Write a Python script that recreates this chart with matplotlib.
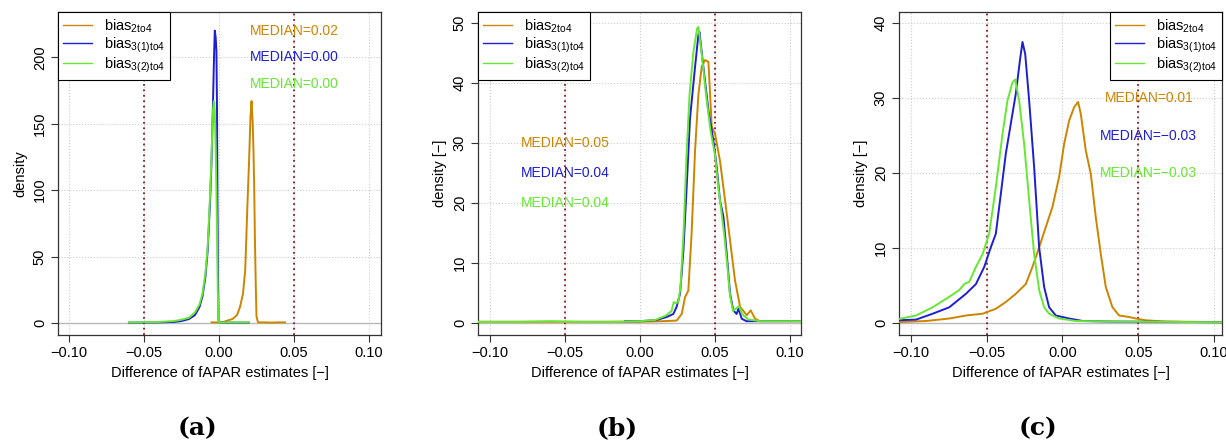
import matplotlib
matplotlib.use("Agg")
import matplotlib.pyplot as plt
from matplotlib.lines import Line2D

plt.rcParams['font.family'] = ['Liberation Sans', 'DejaVu Sans']

# colours of the three series
c_orange = '#CD8500'
c_blue = '#1E1ED2'
c_green = '#66E833'

labels = [r'bias$_{\mathregular{2to4}}$', r'bias$_{\mathregular{3(1)to4}}$', r'bias$_{\mathregular{3(2)to4}}$']

# ---- panel (a) ----
a_x_orange = [-0.005, 0.0, 0.003, 0.006, 0.009, 0.012, 0.014, 0.016, 0.0175, 0.019, 0.020, 0.021,
              0.0217, 0.0225, 0.023, 0.0235, 0.024, 0.0245, 0.025, 0.026, 0.030, 0.035, 0.040, 0.044]
a_y_orange = [0.5, 0.5, 0.8, 2, 3, 6, 12, 22, 40, 90, 120, 155,
              167, 150, 130, 100, 60, 30, 5, 0.5, 0.5, 0.3, 0.5, 0.5]
a_x_blue = [-0.06, -0.04, -0.03, -0.025, -0.02, -0.016, -0.013, -0.011, -0.009, -0.0075, -0.006,
            -0.005, -0.004, -0.0033, -0.0028, -0.0022, -0.0017, -0.0013, -0.001, -0.0006, -0.0003,
            0.0, 0.005, 0.01, 0.02]
a_y_blue = [0.3, 0.5, 0.8, 1.5, 3, 6, 12, 20, 35, 55, 90,
            120, 165, 200, 220, 215, 205, 160, 90, 30, 3,
            0.5, 0.3, 0.3, 0.3]
a_x_green = [-0.06, -0.04, -0.03, -0.025, -0.02, -0.016, -0.013, -0.011, -0.009, -0.0075, -0.006,
             -0.005, -0.004, -0.0034, -0.0028, -0.0022, -0.0017, -0.0012, -0.0008, -0.0004, 0.0,
             0.005, 0.01, 0.02]
a_y_green = [0.5, 0.8, 1.5, 2.5, 4, 8, 14, 22, 38, 58, 95,
             125, 160, 167, 160, 130, 100, 60, 25, 5, 0.5,
             0.5, 0.5, 0.5]
a_medians = ['MEDIAN=0.02', 'MEDIAN=0.00', 'MEDIAN=0.00']

# ---- panel (b) ----
b_x_orange = [-0.11, -0.05, 0.0, 0.015, 0.0244, 0.0278, 0.030, 0.0322, 0.0344, 0.0367, 0.0389, 0.0411,
              0.0433, 0.0456, 0.0478, 0.050, 0.0533, 0.0567, 0.060, 0.0633, 0.0667, 0.0711, 0.0738,
              0.0767, 0.08, 0.09, 0.11]
b_y_orange = [0.2, 0.2, 0.2, 0.3, 0.4, 1.5, 4.3, 5.4, 15, 28.8, 38, 42.7,
              43.8, 43.5, 32.7, 31.5, 27, 20.4, 13.8, 7.1, 2.7, 1.3, 2.1,
              0.7, 0.3, 0.3, 0.3]
b_x_blue = [-0.01, 0.0, 0.011, 0.0178, 0.0222, 0.0244, 0.0267, 0.0289, 0.0311, 0.0333, 0.0367, 0.0389,
            0.0396, 0.0422, 0.0456, 0.0489, 0.0511, 0.0533, 0.0556, 0.0578, 0.06, 0.0622, 0.0644,
            0.0656, 0.0678, 0.071, 0.08, 0.09, 0.1, 0.11]
b_y_blue = [0.3, 0.3, 0.5, 1.0, 1.5, 2.7, 4.9, 12, 22.7, 34, 42.7, 48,
            48.5, 42.7, 35.4, 30.4, 26, 20.4, 17.7, 11.5, 4.9, 2.1, 1.5,
            2.4, 0.7, 0.3, 0.3, 0.3, 0.3, 0.3]
b_x_green = [-0.11, -0.08, -0.06, -0.04, -0.02, 0.0, 0.01, 0.017, 0.021, 0.0225, 0.024, 0.0255,
             0.027, 0.029, 0.031, 0.033, 0.0355, 0.038, 0.0389, 0.0415, 0.044, 0.047, 0.05, 0.052,
             0.054, 0.056, 0.058, 0.06, 0.062, 0.0645, 0.066, 0.068, 0.072, 0.08, 0.09, 0.11]
b_y_green = [0.2, 0.2, 0.3, 0.2, 0.2, 0.3, 0.5, 1.2, 2, 3.5, 3.3, 3.5,
             6, 15, 28, 38, 45, 49, 49.3, 44, 38, 32, 28, 23,
             19, 15, 10, 4.5, 2, 2.5, 2.8, 1.5, 0.6, 0.3, 0.3, 0.3]
b_medians = ['MEDIAN=0.05', 'MEDIAN=0.04', 'MEDIAN=0.04']

# ---- panel (c) ----
c_x_orange = [-0.11, -0.09, -0.0747, -0.0637, -0.0527, -0.044, -0.0374, -0.0308, -0.0242, -0.0198,
              -0.0154, -0.011, -0.0066, -0.0022, 0.0011, 0.0044, 0.0077, 0.0103, 0.0121, 0.0154,
              0.0187, 0.022, 0.0253, 0.0286, 0.033, 0.0374, 0.044, 0.0484, 0.055, 0.068, 0.11]
c_y_orange = [0.1, 0.27, 0.6, 1.0, 1.24, 1.9, 2.8, 3.9, 5.2, 7.5,
              10.1, 12.8, 15.5, 19.5, 23.9, 27, 28.8, 29.5, 27.9, 23,
              19.9, 14.1, 9.2, 4.8, 2.1, 1.0, 0.8, 0.6, 0.36, 0.2, 0.1]
c_x_blue = [-0.11, -0.0967, -0.0857, -0.0747, -0.0637, -0.0571, -0.0516, -0.0473, -0.044, -0.0407,
            -0.0374, -0.0341, -0.0308, -0.0281, -0.0264, -0.0246, -0.022, -0.0187, -0.0154, -0.0121,
            -0.0088, -0.0044, 0.0044, 0.0132, 0.03, 0.11]
c_y_blue = [0.36, 0.45, 1.24, 2.1, 3.9, 5.2, 7.5, 10.1, 11.9, 17.2,
            22.6, 26.6, 30.6, 35, 37.5, 35.9, 29.7, 20.8, 10.1, 4.8,
            2.1, 1.0, 0.6, 0.27, 0.2, 0.1]
c_x_green = [-0.11, -0.0967, -0.0857, -0.0747, -0.0681, -0.0648, -0.0615, -0.0571, -0.0527, -0.0484,
             -0.044, -0.0396, -0.0363, -0.033, -0.0312, -0.0286, -0.0253, -0.022, -0.0187, -0.0154,
             -0.0121, -0.0088, -0.0022, 0.0088, 0.03, 0.11]
c_y_green = [0.45, 1.0, 2.1, 3.5, 4.4, 5.2, 5.5, 7.5, 9.2, 11.9,
             18.1, 25.2, 29.7, 32.1, 32.5, 29.7, 23.9, 16.4, 9.2, 4.4,
             2.1, 1.24, 0.6, 0.27, 0.2, 0.1]
c_medians = ['MEDIAN=0.01', 'MEDIAN=\u22120.03', 'MEDIAN=\u22120.03']

x_ticks = [-0.10, -0.05, 0.00, 0.05, 0.10]

panels = [
    dict(left=58, xlim=(-0.1073, 0.108), ylim=(-9, 234), yticks=[0, 50, 100, 150, 200],
         ylabel='density', series=[(a_x_orange, a_y_orange), (a_x_blue, a_y_blue), (a_x_green, a_y_green)],
         medians=a_medians, med_x=0.05, med_y=[220, 200, 180], legend_loc='upper left', tag='(a)', tag_x=197),
    dict(left=478, xlim=(-0.108, 0.1073), ylim=(-2, 51.8), yticks=[0, 10, 20, 30, 40, 50],
         ylabel='density [\u2212]', series=[(b_x_orange, b_y_orange), (b_x_blue, b_y_blue), (b_x_green, b_y_green)],
         medians=b_medians, med_x=-0.05, med_y=[30, 25, 20], legend_loc='upper left', tag='(b)', tag_x=617),
    dict(left=899, xlim=(-0.1079, 0.1053), ylim=(-1.6, 41.5), yticks=[0, 10, 20, 30, 40],
         ylabel='density [\u2212]', series=[(c_x_orange, c_y_orange), (c_x_blue, c_y_blue), (c_x_green, c_y_green)],
         medians=c_medians, med_x=0.057, med_y=[30, 25, 20], legend_loc='upper right', tag='(c)', tag_x=1038),
]

W, H = 1226, 441
fig = plt.figure(figsize=(W / 100, H / 100), dpi=100)
colors = [c_orange, c_blue, c_green]

for p in panels:
    ax = fig.add_axes([p['left'] / W, 1 - 335 / H, 323 / W, 323 / H])
    ax.set_xlim(*p['xlim'])
    ax.set_ylim(*p['ylim'])
    ax.set_xticks(x_ticks)
    ax.set_xticklabels(['\u22120.10', '\u22120.05', '0.00', '0.05', '0.10'])
    ax.set_yticks(p['yticks'])
    ax.set_yticklabels([str(v) for v in p['yticks']], rotation=90, va='center')
    ax.tick_params(labelsize=10.5, length=5, width=0.8, color='#333333', pad=3)
    for v in x_ticks:
        ax.axvline(v, color='#cccccc', lw=0.8, ls=':', zorder=0)
    for v in p['yticks']:
        ax.axhline(v, color='#cccccc', lw=0.8, ls=':', zorder=0)
    ax.axhline(0, color='#bbbbbb', lw=1, zorder=1)
    for v in (-0.05, 0.05):
        ax.axvline(v, color='#8B1A1A', lw=1.3, ls=(0, (1, 2)), zorder=1)
    for (xs, ys), col in zip(p['series'], colors):
        ax.plot(xs, ys, color=col, lw=1.4, zorder=3)
    for txt, yv, col in zip(p['medians'], p['med_y'], colors):
        ax.text(p['med_x'], yv, txt, color=col, fontsize=10, ha='center', va='center', zorder=4)
    handles = [Line2D([], [], color=col, lw=1) for col in colors]
    anchor = (0, 1) if p['legend_loc'] == 'upper left' else (1, 1)
    leg = ax.legend(handles, labels, loc=p['legend_loc'], bbox_to_anchor=anchor,
                    borderaxespad=0, fancybox=False, framealpha=1, edgecolor='black', fontsize=10.5,
                    handlelength=2.0, labelspacing=0.02, borderpad=0.35, handletextpad=0.8)
    leg.get_frame().set_linewidth(0.8)
    ax.set_xlabel('Difference of fAPAR estimates [\u2212]', fontsize=10.5, labelpad=4)
    ax.set_ylabel(p['ylabel'], fontsize=10.5, labelpad=4)
    for s in ax.spines.values():
        s.set_color('#333333')
        s.set_linewidth(0.9)
    fig.text(p['tag_x'] / W, 1 - 428 / H, p['tag'], fontsize=18, fontweight='bold',
             family='DejaVu Serif', ha='center', va='center')

fig.savefig('out.png', dpi=100)
